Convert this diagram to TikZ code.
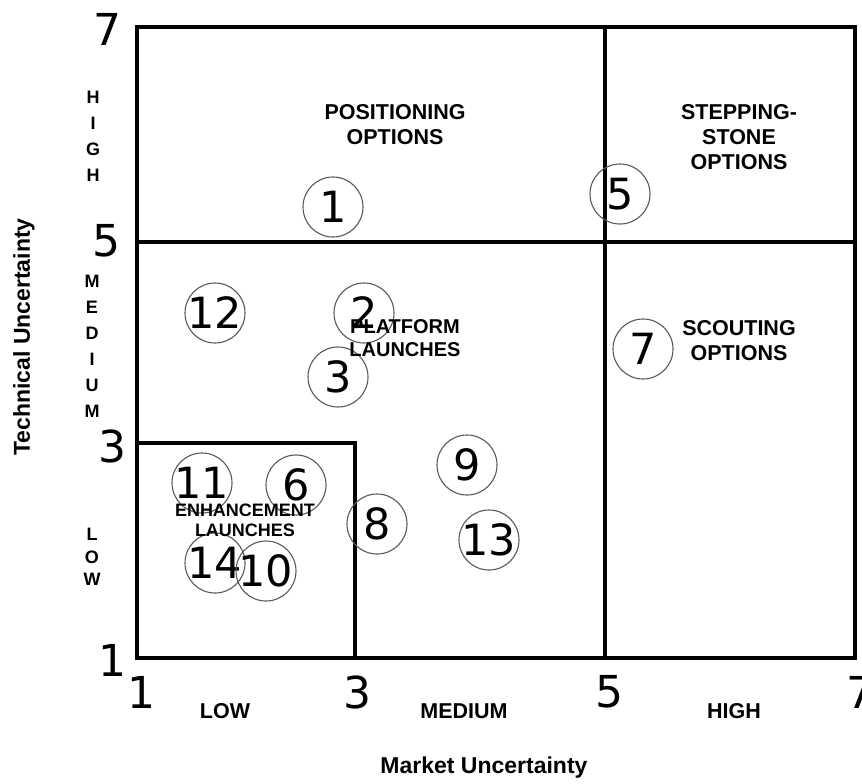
\documentclass[tikz,border=0pt]{standalone}
\usepackage{fontspec}
\setmainfont{Liberation Sans}
\newfontfamily\digfont{DejaVu Sans}
\begin{document}
\begin{tikzpicture}[x=0.5pt,y=-0.5pt,
  frameline/.style={line width=2pt, line cap=rect},
  ring/.style={circle, draw=black!65, line width=0.55pt, minimum size=30pt, inner sep=0pt},
  numtxt/.style={font=\digfont\fontsize{21.5}{24}\selectfont, inner sep=0pt},
  axnum/.style={font=\digfont\fontsize{22}{24}\selectfont, inner sep=0pt},
  region/.style={font=\bfseries\fontsize{10.75}{12.5}\selectfont, align=center, inner sep=0pt},
  axword/.style={font=\bfseries\fontsize{10.75}{12}\selectfont, inner sep=0pt},
  vword/.style={font=\bfseries\fontsize{9}{13}\selectfont, align=center, inner sep=0pt},
  axtitle/.style={font=\bfseries\fontsize{11.5}{13}\selectfont, inner sep=0pt}
]
\useasboundingbox (0,0) rectangle (862,783);
% frame and grid
\coordinate (TL) at (137,27);
\coordinate (BR) at (855,658);
\coordinate (ML) at (137,242);
\coordinate (MR) at (855,242);
\coordinate (VT) at (605,27);
\coordinate (VB) at (605,658);
\coordinate (EL) at (137,443);
\coordinate (EC) at (355,443);
\coordinate (EB) at (355,658);
\draw[frameline] (TL) rectangle (BR);
\draw[frameline] (ML) -- (MR);
\draw[frameline] (VT) -- (VB);
\draw[frameline, line width=2.3pt] (EL) -- (EC) -- (EB);

% circles
\foreach \n/\x/\y in {1/333/207, 5/620/194, 12/215/313, 2/364/313, 3/338/377, 7/643/349,
  11/202/483, 6/296/485, 8/377/524, 9/467/465, 13/489/540, 14/215/563, 10/266/571}{
  \node[ring] (c\n) at (\x,\y) {};
  \node[numtxt] (t\n) at (c\n) {\n};
}

% region labels
\node[region] (pos) at (395,125) {POSITIONING\\OPTIONS};
\node[region] (step) at (739,137) {STEPPING-\\STONE\\OPTIONS};
\node[region] (scout) at (739,341) {SCOUTING\\OPTIONS};
\node[region, font=\bfseries\fontsize{10}{11.5}\selectfont] (plat) at (405,338) {PLATFORM\\LAUNCHES};
\node[region, font=\bfseries\fontsize{9}{10}\selectfont] (enh) at (245,520) {ENHANCEMENT\\LAUNCHES};

% y-axis numbers
\node[axnum] (y7) at (107,29) {7};
\node[axnum] (y5) at (106,241) {5};
\node[axnum] (y3) at (112,446) {3};
\node[axnum] (y1) at (112,660) {1};
% x-axis numbers
\node[axnum] (x1) at (141,692) {1};
\node[axnum] (x3) at (357,692) {3};
\node[axnum] (x5) at (609,692) {5};
\node[axnum] (x7) at (860,692) {7};

% x-axis words
\node[axword] (xlow) at (225,711) {LOW};
\node[axword] (xmed) at (464,711) {MEDIUM};
\node[axword] (xhigh) at (734,711) {HIGH};
\node[axtitle] (xt) at (484,768) {Market Uncertainty};

% y-axis words
\node[vword] (yhigh) at (93,136) {H\\I\\G\\H};
\node[vword] (ymed) at (92,346) {M\\E\\D\\I\\U\\M};
\node[vword, font=\bfseries\fontsize{9}{11.3}\selectfont] (ylow) at (92,557) {L\\O\\W};
\node[axtitle, rotate=90] (yt) at (24,337) {Technical Uncertainty};
\end{tikzpicture}
\end{document}
